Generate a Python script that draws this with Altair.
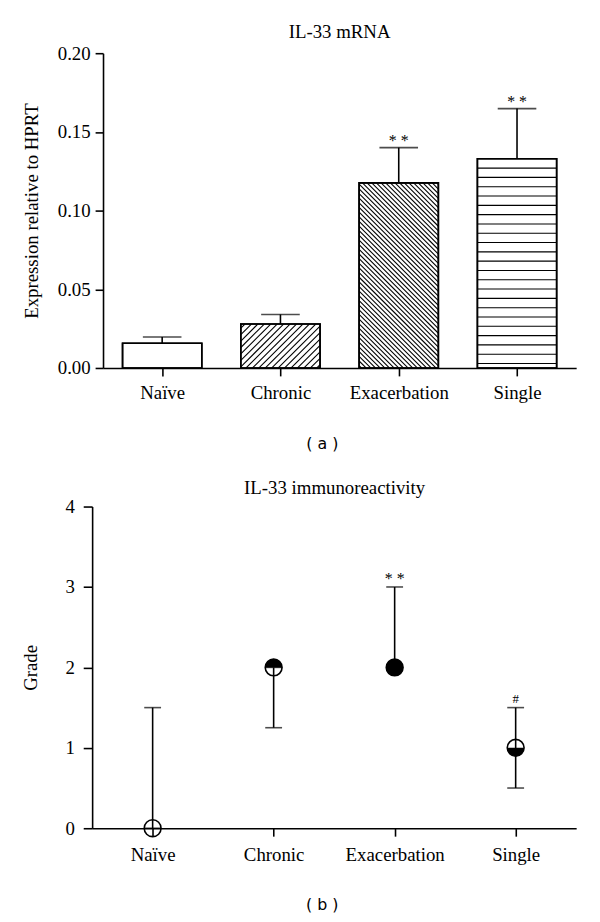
import json
import altair as alt
import numpy as np
import pandas as pd

# ---------------- data ----------------
groups = ["Naïve", "Chronic", "Exacerbation", "Single"]

mrna_mean = [0.0157, 0.0279, 0.1176, 0.1329]
mrna_upper = [0.0197, 0.0340, 0.1400, 0.1648]
mrna_sig = ["", "", "* *", "* *"]
mrna_hatch = ["none", "forward", "back", "horizontal"]

grade_median = [0, 2, 2, 1]
grade_lower = [0, 1.25, 2, 0.5]
grade_upper = [1.5, 2, 3, 1.5]
grade_fill = ["open", "top", "full", "bottom"]
grade_sig = ["", "", "* *", "#"]

# ---------------- style ----------------
SERIF = "Liberation Serif"
SANS = "DejaVu Sans"
INK = "#000000"
W1, H1, YMAX1 = 478, 318, 0.20
W2, H2, YMAX2 = 478, 325, 4
SHIFT2 = 11          # panel (b) y axis sits further left than panel (a)
BAR_FRAC = 0.67
HATCH_GAP = {"forward": 6.5, "back": 4.7, "horizontal": 9.4}

n = len(groups)

# ---------------- panel (a) ----------------
df1 = pd.DataFrame({"group": groups, "mean": mrna_mean, "upper": mrna_upper,
                    "sig": mrna_sig})
df1["xc"] = np.arange(n) + 0.5
df1["x0"] = df1["xc"] - BAR_FRAC / 2
df1["x1"] = df1["xc"] + BAR_FRAC / 2

# hatch segments derived from each bar's value (pixel spacing -> data units)
px_x = W1 / n
px_y = H1 / YMAX1
segs = []
for i, (val, kind) in enumerate(zip(mrna_mean, mrna_hatch)):
    bx0 = i + 0.5 - BAR_FRAC / 2
    w = BAR_FRAC * px_x
    hp = val * px_y
    if kind == "none":
        continue
    gap = HATCH_GAP[kind]
    if kind == "forward":      # "/" : Y = X + c
        c = -w + gap / 2
        while c < hp:
            a, b = max(0.0, -c), min(w, hp - c)
            if b > a:
                segs.append((bx0 + a / px_x, (a + c) / px_y, bx0 + b / px_x, (b + c) / px_y))
            c += gap
    elif kind == "back":       # "\" : Y = -X + c
        c = gap / 2
        while c < w + hp:
            a, b = max(0.0, c - hp), min(w, c)
            if b > a:
                segs.append((bx0 + a / px_x, (c - a) / px_y, bx0 + b / px_x, (c - b) / px_y))
            c += gap
    elif kind == "horizontal":
        yy = hp - gap
        while yy > 0.5:
            segs.append((bx0, yy / px_y, bx0 + w / px_x, yy / px_y))
            yy -= gap
hatch = pd.DataFrame(segs, columns=["hx0", "hy0", "hx1", "hy1"])

label_expr = json.dumps(groups, ensure_ascii=False) + "[floor(datum.value)]"

x1_scale = alt.Scale(domain=[0, n], nice=False, zero=False)
y1_scale = alt.Scale(domain=[0, YMAX1], nice=False)

x1_axis = alt.Axis(values=[i + 0.5 for i in range(n)], labelExpr=label_expr,
                   grid=False, domainColor=INK, domainWidth=1.6, tickColor=INK,
                   tickWidth=1.6, tickSize=8, labelFont=SERIF, labelFontSize=19,
                   labelColor=INK, labelPadding=8, labelAngle=0,
                   title="( a )", titleFont=SANS, titleFontSize=16,
                   titleFontWeight="normal", titleColor=INK, titleX=221, titleY=76,
                   titleBaseline="middle", titleAlign="center")
y1_axis = alt.Axis(values=[0, 0.05, 0.10, 0.15, 0.20], format=".2f", grid=False,
                   domainColor=INK, domainWidth=1.6, tickColor=INK, tickWidth=1.6,
                   tickSize=8, labelFont=SERIF, labelFontSize=19, labelColor=INK,
                   labelPadding=5, title="Expression relative to HPRT",
                   titleFont=SERIF, titleFontSize=19, titleFontWeight="normal",
                   titleColor=INK, titlePadding=16)

base1 = alt.Chart(df1)
bars = base1.mark_rect(fill="white", stroke=INK, strokeWidth=1.6).encode(
    x=alt.X("x0:Q", scale=x1_scale, axis=x1_axis),
    x2="x1:Q",
    y=alt.Y("mean:Q", scale=y1_scale, axis=y1_axis),
    y2=alt.datum(0),
)
hatch_lines = alt.Chart(hatch).mark_rule(color=INK, strokeWidth=1.1).encode(
    x="hx0:Q", x2="hx1:Q", y="hy0:Q", y2="hy1:Q")
bar_outline = base1.mark_rect(fillOpacity=0, stroke=INK, strokeWidth=1.6).encode(
    x="x0:Q", x2="x1:Q", y="mean:Q", y2=alt.datum(0))
err1 = base1.mark_rule(color=INK, strokeWidth=1.6).encode(
    x="xc:Q", y="mean:Q", y2="upper:Q")
cap1 = base1.mark_tick(color=INK, orient="horizontal", size=39, thickness=1.6).encode(
    x="xc:Q", y="upper:Q")
star1 = base1.mark_text(font=SERIF, fontSize=16, color=INK, baseline="alphabetic",
                        dy=-2).encode(x="xc:Q", y="upper:Q", text="sig:N")

top = alt.layer(bars, hatch_lines, bar_outline, err1, cap1, star1).properties(
    width=W1, height=H1,
    title=alt.TitleParams("IL-33 mRNA", font=SERIF, fontSize=19, fontWeight="normal",
                          color=INK, frame="group", anchor="middle", offset=-13,
                          baseline="alphabetic"),
)

# ---------------- panel (b) ----------------
df2 = pd.DataFrame({"group": groups, "median": grade_median, "lower": grade_lower,
                    "upper": grade_upper, "fill": grade_fill, "sig": grade_sig})

CIRCLE = "M -1 0 A 1 1 0 1 1 1 0 A 1 1 0 1 1 -1 0 Z"
TOP_HALF = "M -1 0 A 1 1 0 0 1 1 0 Z"
BOTTOM_HALF = "M -1 0 A 1 1 0 0 0 1 0 Z"

x2_scale = alt.Scale(type="point", padding=0.5, domain=groups, range=[-SHIFT2, W2])
y2_scale = alt.Scale(domain=[0, YMAX2], nice=False)
x2_axis = alt.Axis(grid=False, domainColor=INK, domainWidth=1.6, tickColor=INK,
                   tickWidth=1.6, tickSize=8, labelFont=SERIF, labelFontSize=19,
                   labelColor=INK, labelPadding=10, labelAngle=0,
                   title="( b )", titleFont=SANS, titleFontSize=16,
                   titleFontWeight="normal", titleColor=INK, titleX=221, titleY=77,
                   titleBaseline="middle", titleAlign="center")
y2_axis = alt.Axis(values=[0, 1, 2, 3, 4], format="d", grid=False, domainColor=INK,
                   domainWidth=1.6, tickColor=INK, tickWidth=1.6, tickSize=9,
                   labelFont=SERIF, labelFontSize=19, labelColor=INK, labelPadding=9,
                   offset=SHIFT2,
                   title="Grade", titleFont=SERIF, titleFontSize=19,
                   titleFontWeight="normal", titleColor=INK, titlePadding=25)

base2 = alt.Chart(df2)
xenc = alt.X("group:N", sort=groups, scale=x2_scale, axis=x2_axis)
err2 = base2.mark_rule(color=INK, strokeWidth=1.6).encode(
    x=xenc, y=alt.Y("lower:Q", scale=y2_scale, axis=y2_axis), y2="upper:Q")
cap2 = base2.transform_fold(["lower", "upper"], as_=["end", "val"]).mark_tick(
    color=INK, orient="horizontal", size=17, thickness=1.6).encode(
    x=alt.X("group:N", sort=groups), y="val:Q")
ring = base2.mark_point(shape=CIRCLE, size=289, filled=False, stroke=INK,
                        strokeWidth=1.6, opacity=1).encode(
    x=alt.X("group:N", sort=groups), y="median:Q")
solid = base2.transform_filter(alt.datum.fill != "open").mark_point(
    filled=True, size=289, color=INK, opacity=1, strokeWidth=0).encode(
    x=alt.X("group:N", sort=groups), y="median:Q",
    shape=alt.Shape("fill:N", scale=alt.Scale(domain=["top", "full", "bottom"],
                                               range=[TOP_HALF, CIRCLE, BOTTOM_HALF]),
                    legend=None))
star2 = base2.transform_filter(alt.datum.sig == "* *").mark_text(
    font=SERIF, fontSize=16, color=INK, baseline="alphabetic", dy=-3).encode(
    x=alt.X("group:N", sort=groups), y="upper:Q", text="sig:N")
hash2 = base2.transform_filter(alt.datum.sig == "#").mark_text(
    font=SERIF, fontSize=13, color=INK, baseline="alphabetic", dy=-5).encode(
    x=alt.X("group:N", sort=groups), y="upper:Q", text="sig:N")

bottom = alt.layer(err2, cap2, ring, solid, star2, hash2).properties(
    width=W2, height=H2,
    title=alt.TitleParams("IL-33 immunoreactivity", font=SERIF, fontSize=19,
                          fontWeight="normal", color=INK, frame="group",
                          anchor="middle", offset=-15, dx=-5, baseline="alphabetic"),
)

chart = alt.vconcat(top, bottom, spacing=28).properties(
    padding={"left": 13, "top": 11, "right": 5, "bottom": 0},
    background="white",
).configure_view(stroke=None)

chart.save("out.html", embed_options={"renderer": "svg", "actions": False})
